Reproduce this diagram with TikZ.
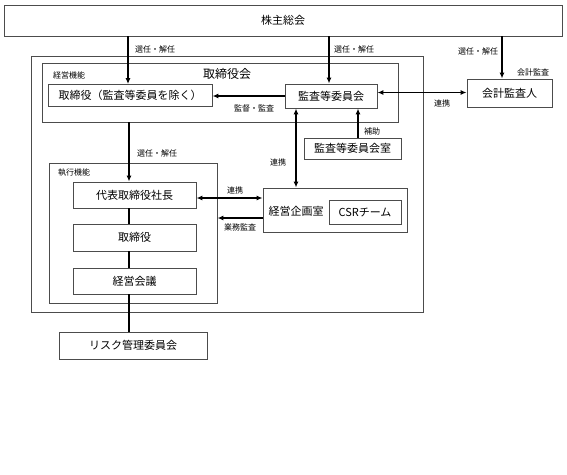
\documentclass[tikz,border=0pt]{standalone}
\usepackage{fontspec}
\setmainfont{Noto Sans CJK JP}
\usetikzlibrary{arrows.meta}
\begin{document}
\begin{tikzpicture}[x=1pt,y=-1pt,
  box/.style={draw=black!70, line width=0.9pt, fill=white, inner sep=0pt, font=\fontsize{11}{13}\selectfont},
  frame/.style={draw=black!70, line width=0.9pt, inner sep=0pt},
  lbl/.style={font=\fontsize{8}{9}\selectfont, inner sep=1pt},
  title/.style={font=\fontsize{12}{14}\selectfont, inner sep=1pt},
  arr/.style={line width=1.3pt, -{Latex[length=6pt,width=5pt]}},
  darr/.style={line width=1.3pt, {Latex[length=6pt,width=5pt]}-{Latex[length=6pt,width=5pt]}},
  ln/.style={line width=1.3pt}]
\useasboundingbox (0,0) rectangle (567,474);

% frames
\node[frame, minimum width=392pt, minimum height=256pt] (outer) at (227,184) {};
\node[frame, minimum width=356pt, minimum height=59pt] (board) at (220,92.5) {};
\node[frame, minimum width=168pt, minimum height=140pt] (shikko) at (133,233) {};

% boxes
\node[box, minimum width=558pt, minimum height=31pt] (soukai) at (283,20.5) {株主総会};
\node[box, minimum width=164pt, minimum height=22pt] (tori) at (130,95.5) {取締役（監査等委員を除く）};
\node[box, minimum width=92pt, minimum height=24pt] (kansa) at (331,96) {監査等委員会};
\node[box, minimum width=85pt, minimum height=28pt] (kaikei) at (509.5,93) {会計監査人};
\node[box, minimum width=97pt, minimum height=21pt] (shitsu) at (352.5,148.5) {監査等委員会室};
\node[box, minimum width=144pt, minimum height=44pt] (kikaku) at (335,210) {};
\node[inner sep=0pt, font=\fontsize{11}{13}\selectfont] (kikakut) at (296,211) {経営企画室};
\node[box, minimum width=72pt, minimum height=24pt] (csr) at (365,212) {CSRチーム};
\node[box, minimum width=123pt, minimum height=26pt] (shacho) at (134.5,195) {代表取締役社長};
\node[box, minimum width=123pt, minimum height=27pt] (tori2) at (134.5,237.5) {取締役};
\node[box, minimum width=123pt, minimum height=26pt] (kaigi) at (134.5,281) {経営会議};
\node[box, minimum width=148pt, minimum height=27pt] (risk) at (133,345.5) {リスク管理委員会};

% titles and labels
\node[lbl, anchor=west] (keieikino) at (52,75) {経営機能};
\node[title] (boardt) at (227,74) {取締役会};
\node[lbl, anchor=west] (shikkokino) at (57,173) {執行機能};
\node[lbl, anchor=west] (l1) at (134,49) {選任・解任};
\node[lbl, anchor=west] (l2) at (333,49) {選任・解任};
\node[lbl] (l3) at (478,51) {選任・解任};
\node[lbl] (l4) at (533,72) {会計監査};
\node[lbl] (l5) at (254,108) {監督・監査};
\node[lbl] (l6) at (442,103) {連携};
\node[lbl] (l7) at (372,131) {補助};
\node[lbl] (l8) at (278,162) {連携};
\node[lbl] (l9) at (157,153) {選任・解任};
\node[lbl] (l10) at (235,190) {連携};
\node[lbl] (l11) at (240,227) {業務監査};

% helper coordinates
\coordinate (xa) at (128,0);
\coordinate (xb) at (329,0);
\coordinate (xc) at (502,0);
\coordinate (xd) at (358,0);
\coordinate (xe) at (296,0);
\coordinate (xf) at (129,0);
\coordinate (ya) at (0,92.5);
\coordinate (yb) at (0,198);
\coordinate (yc) at (0,218);

% connectors
\draw[arr] (soukai.south -| xa) -- (tori.north -| xa);
\draw[arr] (soukai.south -| xb) -- (kansa.north -| xb);
\draw[arr] (soukai.south -| xc) -- (kaikei.north -| xc);
\draw[arr] (kansa.west) -- (kansa.west -| tori.east);
\draw[darr] (kansa.east |- ya) -- (kaikei.west |- ya);
\draw[arr] (shitsu.north -| xd) -- (kansa.south -| xd);
\draw[darr] (kansa.south -| xe) -- (kikaku.north -| xe);
\draw[arr] (board.south -| xf) -- (shacho.north -| xf);
\draw[darr] (shacho.east |- yb) -- (kikaku.west |- yb);
\draw[arr] (kikaku.west |- yc) -- (shikko.east |- yc);
\draw[ln] (shacho.south -| xf) -- (tori2.north -| xf);
\draw[ln] (tori2.south -| xf) -- (kaigi.north -| xf);
\draw[ln] (kaigi.south -| xf) -- (risk.north -| xf);
\end{tikzpicture}
\end{document}
